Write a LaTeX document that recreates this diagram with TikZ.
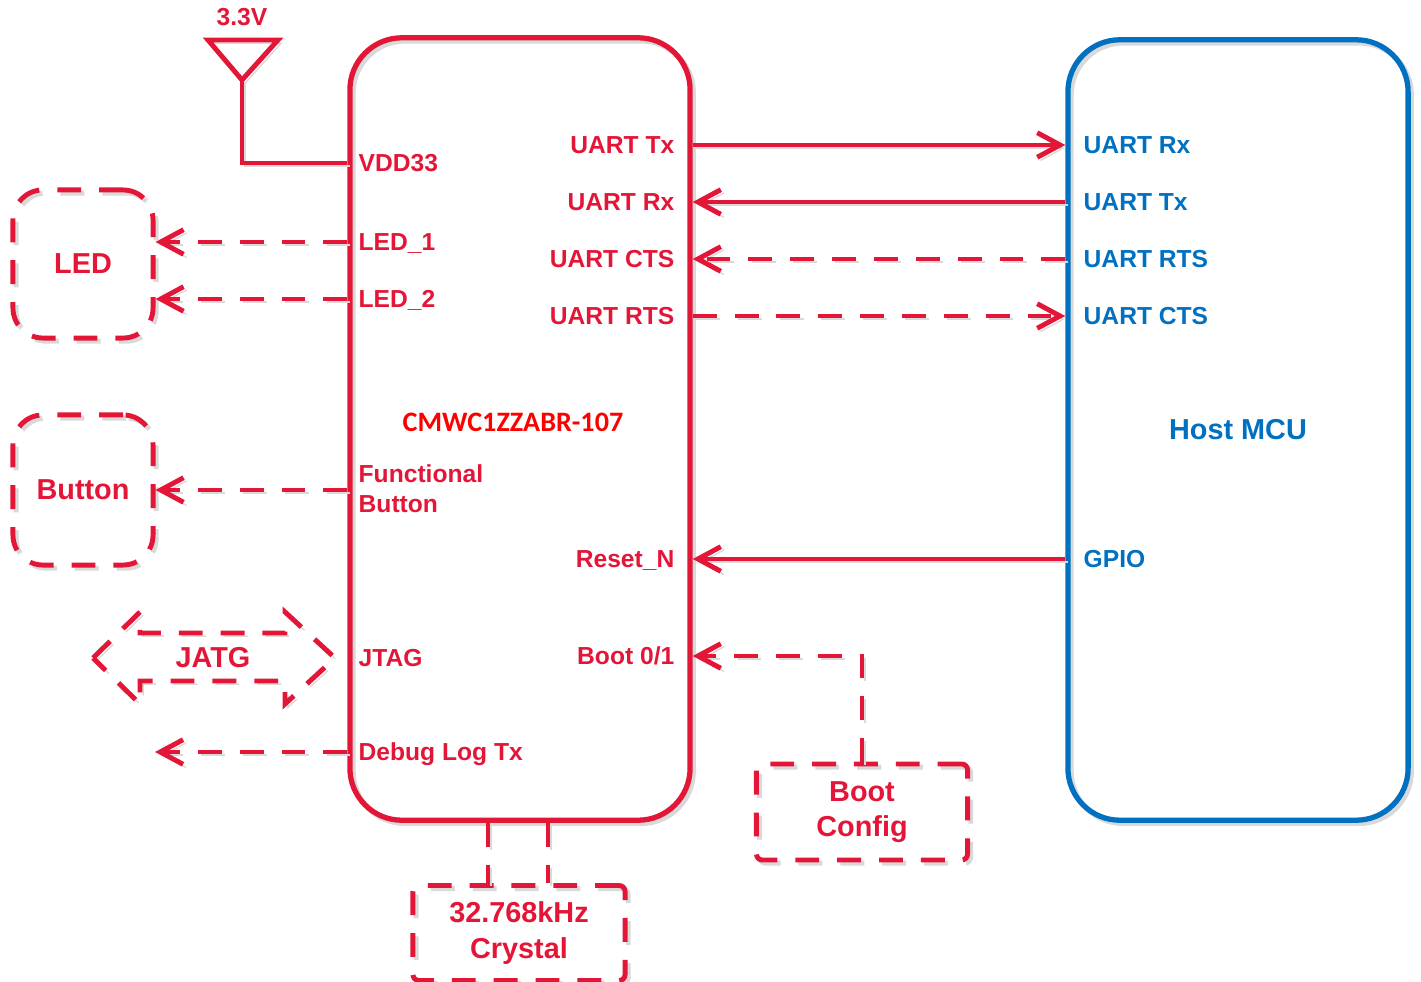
\documentclass[tikz,border=0pt]{standalone}
\usepackage{fontspec}
\setmainfont{Liberation Sans}
\newfontfamily\partfont{Carlito}
\usetikzlibrary{arrows.meta}
\definecolor{pinred}{RGB}{228,22,56}
\definecolor{hostblue}{RGB}{0,112,192}
\definecolor{partred}{RGB}{255,0,0}

\begin{document}
\begin{tikzpicture}[x=0.01cm, y=-0.01cm,
	every node/.style={font=\bfseries\fontsize{7}{8.5}\selectfont, text=pinred, inner sep=0pt},
	pin/.style={text height=5pt, text depth=0pt},
	dashline/.style={dash pattern=on 6.8pt off 5.1pt},
	shade/.style={preaction={draw=black!15, transform canvas={shift={(0.9pt,-0.9pt)}}}},
	dshade/.style={preaction={draw=black!15, dashline, transform canvas={shift={(0.9pt,-0.9pt)}}}},
	line/.style={draw=pinred, line width=1.4pt},
	tip/.style={-{Straight Barb[length=6.5pt, width=7pt]}},
	wire/.style={line, shade},
	dwire/.style={line, dashline, dshade},
	sig/.style={wire, tip},
	dsig/.style={dwire, tip},
	hostpin/.style={pin, text=hostblue, anchor=west},
	boxtext/.style={font=\bfseries\fontsize{8.2}{10}\selectfont, align=center},
	dbox/.style={dwire, boxtext},
	]
			\useasboundingbox (0,0) rectangle (1421,982);
			\node[draw=pinred, line width=1.5pt, shade, rounded corners=0.52cm, minimum width=3.4cm, minimum height=7.82cm] (chip) at (520,429) {};
			\node[draw=hostblue, line width=1.5pt, shade, rounded corners=0.52cm, minimum width=3.4cm, minimum height=7.8cm, text=hostblue, font=\bfseries\fontsize{8.2}{10}\selectfont] (host) at (1238,430) {Host MCU};
			\node[font=\partfont\bfseries\fontsize{8}{9}\selectfont, text=partred] (part) at (513,422) {CMWC1ZZABR-107};
			\node (vlabel) at (242,17) {3.3V};
			\coordinate (ant) at (242,80);
			\draw[wire, line join=miter] (208,40) -- (278,40) -- (ant) -- cycle;
			\node[pin, anchor=west] (vdd) at (358,163) {VDD33};
			\draw[wire] (ant) |- (chip.west |- vdd);
			\node[pin, anchor=west] (led1) at (358,242) {LED\_1};
			\node[pin, anchor=west] (led2) at (358,299) {LED\_2};
			\node[anchor=west, align=left] (fbtn) at (358,489) {Functional\\Button};
			\node[pin, anchor=west] (jtag) at (358,658) {JTAG};
			\node[pin, anchor=west] (dbg) at (358,752) {Debug Log Tx};
			\node[pin, anchor=east] (ctx) at (675,145) {UART Tx};
			\node[pin, anchor=east] (crx) at (675,202) {UART Rx};
			\node[pin, anchor=east] (ccts) at (675,259) {UART CTS};
			\node[pin, anchor=east] (crts) at (675,316) {UART RTS};
			\node[pin, anchor=east] (rst) at (675,559) {Reset\_N};
			\node[pin, anchor=east] (bsel) at (675,656) {Boot 0/1};
			\node[hostpin] (hrx) at (1083,145) {UART Rx};
			\node[hostpin] (htx) at (1083,202) {UART Tx};
			\node[hostpin] (hrts) at (1083,259) {UART RTS};
			\node[hostpin] (hcts) at (1083,316) {UART CTS};
			\node[hostpin] (gpio) at (1083,559) {GPIO};
			\draw[sig] (chip.east |- ctx) -- (host.west |- hrx);
			\draw[sig] (host.west |- htx) -- (chip.east |- crx);
			\draw[dsig] (host.west |- hrts) -- (chip.east |- ccts);
			\draw[dsig] (chip.east |- crts) -- (host.west |- hcts);
			\draw[sig] (host.west |- gpio) -- (chip.east |- rst);
			\node[dbox, rounded corners=0.3cm, minimum width=1.4cm, minimum height=1.48cm] (led) at (83,264) {LED};
			\node[dbox, rounded corners=0.3cm, minimum width=1.4cm, minimum height=1.5cm] (btn) at (83,490) {Button};
			\draw[dsig] (chip.west |- led1) -- (led.east |- led1);
			\draw[dsig] (chip.west |- led2) -- (led.east |- led2);
			\draw[dsig] (chip.west |- btn) -- (btn.east);
			\node[boxtext] (jatg) at (213,658) {JATG};
			\draw[dwire, line join=miter] (93,658) -- (140,612) -- (140,633) -- (285,633) -- (285,612) -- (335,658) -- (285,704) -- (285,681) -- (140,681) -- (140,704) -- cycle;
			\coordinate (dbgend) at (155,752);
			\draw[dsig] (chip.west |- dbg) -- (dbgend);
			\node[dbox, rounded corners=0.06cm, minimum width=2.11cm, minimum height=0.96cm] (boot) at (862,812) {Boot\\Config};
			\draw[dsig] (boot.north) |- (chip.east |- bsel);
			\node[dbox, rounded corners=0.06cm, minimum width=2.12cm, minimum height=0.95cm] (xtal) at (519,933) {32.768kHz\\Crystal};
			\draw[dwire] ([xshift=-0.32cm]chip.south) -- ([xshift=-0.32cm]chip.south |- xtal.north);
			\draw[dwire] ([xshift=0.28cm]chip.south) -- ([xshift=0.28cm]chip.south |- xtal.north);
		\end{tikzpicture}
\end{document}
